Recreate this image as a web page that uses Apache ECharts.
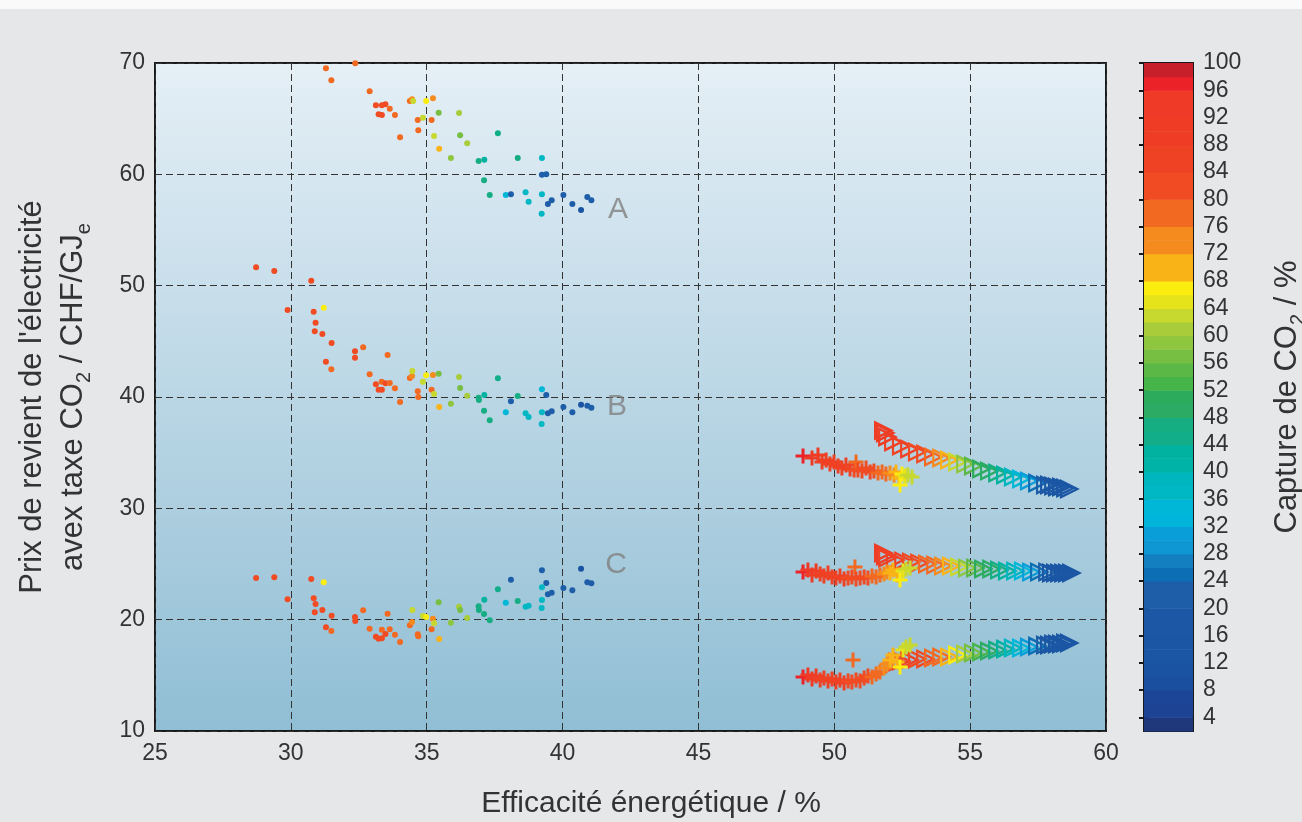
<!DOCTYPE html>
<html>
<head>
<meta charset="utf-8">
<title>Capture de CO2</title>
<script src="https://cdn.jsdelivr.net/npm/echarts@6/dist/echarts.min.js"></script>
<style>
  html, body { margin: 0; padding: 0; background: #e6e7e9; }
  #main { width: 1302px; height: 822px; }
</style>
</head>
<body>
<div id="main"></div>
<script>
// [efficacité %, prix CHF/GJe, capture CO2 %]
var dotsA = [
  [31.29,69.52,78],[32.37,69.97,78],[31.49,68.45,78],[32.90,67.46,78],[33.13,66.20,82],[33.35,66.20,82],
  [33.48,66.29,80],[33.64,65.90,76],[33.23,65.39,80],[33.35,65.33,80],[33.83,65.33,78],[34.38,66.59,78],
  [34.46,66.74,72],[34.50,66.59,63],[34.98,66.59,67],[35.23,66.83,74],[35.44,65.54,56],[36.19,65.51,60],
  [34.67,64.88,78],[34.86,65.09,63],[35.18,64.88,76],[34.02,63.33,76],[34.69,63.95,78],[35.27,63.44,63],
  [36.23,63.51,56],[36.49,62.79,60],[35.46,62.30,70],[37.62,63.69,44],[35.89,61.47,58],[36.91,61.20,46],
  [37.12,61.31,42],[38.35,61.47,46],[39.24,61.47,36],[39.24,59.97,22],[39.40,60.00,22],[37.11,59.46,46],
  [37.32,58.14,46],[37.91,58.14,34],[38.10,58.21,20],[38.64,58.39,36],[38.75,57.54,36],[39.24,58.21,36],
  [39.60,57.67,20],[39.46,57.34,20],[40.03,58.14,20],[40.36,57.34,20],[40.68,56.80,10],[40.91,57.96,20],
  [41.06,57.67,20],[39.23,56.46,36]
];
var dotsB = [
  [28.72,51.65,82],[29.39,51.32,82],[30.75,50.45,82],[29.88,47.81,80],[31.21,48.02,67],[30.84,47.66,82],
  [30.91,46.67,80],[30.88,45.90,80],[31.16,45.66,80],[31.50,44.85,80],[31.29,43.17,80],[31.49,42.49,78],
  [32.36,44.10,80],[32.66,44.46,76],[32.36,43.52,80],[33.56,43.77,76],[32.90,42.04,78],[33.13,41.14,82],
  [33.34,41.37,78],[33.48,41.23,80],[33.64,41.26,76],[33.23,40.65,80],[33.35,40.65,80],[33.83,40.78,78],
  [34.02,39.55,76],[34.38,41.71,78],[34.46,41.89,72],[34.47,42.33,63],[34.98,41.95,67],[35.23,41.98,74],
  [35.44,42.09,56],[34.86,41.37,63],[35.18,40.65,76],[34.67,40.51,78],[34.69,40.00,78],[35.27,40.27,63],
  [35.46,39.10,70],[36.19,41.80,60],[36.23,40.81,56],[36.49,40.12,60],[35.89,39.40,58],[36.91,39.94,46],
  [36.92,39.73,46],[37.12,40.18,42],[37.62,41.68,44],[37.11,38.77,46],[37.32,37.91,46],[38.10,39.61,20],
  [38.35,40.09,46],[37.91,38.63,34],[38.64,38.54,36],[38.75,38.20,36],[39.24,40.69,34],[39.40,40.18,22],
  [39.24,38.63,36],[39.23,37.57,36],[39.46,38.54,20],[39.60,38.72,20],[40.03,39.10,20],[40.36,38.63,20],
  [40.68,39.31,10],[40.91,39.22,20],[41.06,39.04,20]
];
var dotsC = [
  [28.72,23.74,82],[29.39,23.80,82],[30.75,23.65,82],[31.21,23.36,67],[29.88,21.83,80],[30.84,21.92,82],
  [30.91,21.41,80],[30.88,20.66,80],[31.16,20.87,80],[31.50,20.36,80],[31.29,19.31,80],[31.49,18.98,78],
  [32.36,20.24,80],[32.37,19.88,80],[32.66,20.84,76],[33.56,20.53,76],[32.90,19.19,78],[33.13,18.47,82],
  [33.23,18.29,80],[33.35,18.32,80],[33.35,19.10,78],[33.48,18.71,80],[33.64,19.13,76],[33.83,18.65,78],
  [34.02,17.99,76],[34.38,19.49,78],[34.46,19.79,72],[34.47,20.87,63],[34.67,18.68,78],[34.69,18.50,78],
  [34.86,20.33,63],[34.98,20.24,67],[35.23,20.09,74],[35.27,19.67,63],[35.18,19.13,76],[35.46,18.26,70],
  [35.44,21.56,56],[35.89,19.73,58],[36.19,21.16,60],[36.23,20.87,56],[36.49,20.15,60],[36.91,21.20,46],
  [36.92,20.87,46],[37.12,21.79,42],[37.11,20.51,46],[37.32,19.94,46],[37.62,22.73,44],[37.91,21.52,34],
  [38.10,23.59,20],[38.35,21.67,46],[38.64,21.16,36],[38.75,21.25,36],[39.24,24.43,22],[39.40,23.29,22],
  [39.24,22.91,36],[39.24,21.77,36],[39.23,21.05,36],[39.46,22.28,20],[39.60,22.42,20],[40.03,22.84,20],
  [40.36,22.64,20],[40.68,24.58,10],[40.91,23.36,20],[41.06,23.27,20]
];

var crossTop = [
  [48.85,34.70,96],[49.18,34.52,90],[49.40,34.79,88],[49.55,34.16,86],[49.70,34.34,86],[49.84,33.98,86],
  [49.99,34.16,84],[50.14,33.80,84],[50.28,33.62,84],[50.43,33.89,84],[50.58,33.53,84],[50.73,33.44,82],
  [50.80,34.16,76],[50.87,33.44,82],[51.02,33.35,82],[51.17,33.62,82],[51.32,33.26,80],[51.46,33.35,80],
  [51.61,33.17,78],[51.76,33.26,78],[51.90,33.08,76],[52.05,33.17,74],[52.20,32.99,72],[52.27,33.26,70],
  [52.38,32.72,68],[52.42,32.09,67],[52.49,33.08,66],[52.60,32.90,64],[52.71,32.99,62],[52.86,32.81,62]
];
var crossMid = [
  [48.85,24.28,96],[49.03,24.46,92],[49.18,24.01,90],[49.33,24.37,88],[49.48,24.10,86],[49.62,23.92,86],
  [49.77,24.19,86],[49.92,23.83,84],[50.06,23.74,84],[50.21,23.92,84],[50.36,23.65,84],[50.51,23.74,82],
  [50.65,23.83,82],[50.76,24.73,76],[50.80,23.65,82],[50.95,23.74,82],[51.10,23.83,80],[51.24,23.74,80],
  [51.39,23.92,78],[51.54,23.83,78],[51.68,24.01,76],[51.83,24.10,74],[51.94,24.28,72],[52.05,24.19,70],
  [52.16,24.46,68],[52.31,24.01,68],[52.42,23.56,66],[52.53,24.37,64],[52.64,24.55,62],[52.79,24.64,62]
];
var crossBot = [
  [48.85,14.85,96],[49.03,15.03,92],[49.18,14.67,90],[49.33,14.94,88],[49.48,14.58,86],[49.62,14.76,86],
  [49.77,14.49,86],[49.92,14.67,84],[50.06,14.40,84],[50.21,14.58,84],[50.36,14.31,84],[50.51,14.49,82],
  [50.65,14.40,82],[50.69,16.38,76],[50.80,14.58,82],[50.95,14.49,82],[51.10,14.76,80],[51.24,14.94,80],
  [51.39,14.85,78],[51.54,15.12,78],[51.68,15.30,76],[51.83,15.66,74],[51.94,16.02,72],[52.05,16.38,70],
  [52.16,16.83,68],[52.31,16.20,68],[52.42,15.75,66],[52.53,17.27,64],[52.64,17.54,62],[52.79,17.72,62]
];

var triTop = [
  [51.83,37.00,88],[51.90,36.77,88],[51.98,36.41,88],[52.20,35.96,86],[52.49,35.60,84],[52.79,35.33,84],
  [53.08,35.06,82],[53.38,34.88,80],[53.67,34.61,76],[53.97,34.52,74],[54.26,34.34,68],[54.56,34.16,62],
  [54.85,33.98,58],[55.14,33.80,54],[55.44,33.53,50],[55.73,33.35,48],[56.03,33.17,46],[56.32,32.99,42],
  [56.61,32.81,38],[56.91,32.63,34],[57.20,32.45,30],[57.50,32.27,24],[57.79,32.09,20],[57.94,32.09,18],
  [58.09,32.00,16],[58.23,31.91,14],[58.38,31.91,14],[58.53,31.82,12],[58.67,31.73,12]
];
var triMid = [
  [51.83,25.99,88],[51.90,25.72,88],[51.98,25.54,86],[52.27,25.36,86],[52.57,25.27,84],[52.86,25.18,82],
  [53.16,25.09,80],[53.45,25.00,78],[53.75,24.91,76],[54.04,24.82,72],[54.33,24.82,68],[54.63,24.73,62],
  [54.92,24.64,58],[55.22,24.64,54],[55.51,24.55,50],[55.81,24.55,48],[56.10,24.46,46],[56.39,24.37,42],
  [56.69,24.37,38],[56.98,24.37,34],[57.28,24.28,30],[57.57,24.28,24],[57.87,24.28,20],[58.01,24.19,18],
  [58.16,24.19,16],[58.31,24.19,14],[58.46,24.19,14],[58.60,24.19,12],[58.75,24.19,12]
];
var triBot = [
  [52.35,16.20,86],[52.49,16.29,86],[52.79,16.38,84],[53.08,16.47,82],[53.38,16.47,80],[53.67,16.56,78],
  [53.97,16.65,76],[54.26,16.65,70],[54.56,16.83,66],[54.85,16.92,60],[55.14,17.01,56],[55.44,17.10,52],
  [55.73,17.18,48],[56.03,17.27,46],[56.32,17.36,42],[56.61,17.45,38],[56.91,17.45,34],[57.20,17.54,30],
  [57.50,17.63,24],[57.79,17.72,20],[57.94,17.72,18],[58.09,17.81,16],[58.23,17.81,14],[58.38,17.81,14],
  [58.53,17.90,12],[58.67,17.90,12]
];

var groupNames = ['A', 'B', 'C'];
var groupLabelPos = [[42.04, 56.80], [42.00, 39.10], [41.97, 24.91]];

// colour bar: lower edge of each 2 % band, and the labelled ticks
var bandLows = [2,4,6,8,10,12,14,16,18,20,22,24,26,28,30,32,34,36,38,40,42,44,46,48,50,
                52,54,56,58,60,62,64,66,68,70,72,74,76,78,80,82,84,86,88,90,92,94,96,98];
var captureTicks = [4,8,12,16,20,24,28,32,36,40,44,48,52,56,60,64,68,72,76,80,84,88,92,96,100];

var colormap = [
  '#1f377b','#1c4394','#1d4597','#1a4fa0','#1a53a2','#1a56a4','#1a56a4','#1b57a4','#1b57a4','#1e5ea9',
  '#1e5ea9','#0c6fb5','#137fc1','#0e97d3','#0a9ed9','#00b4da','#00b7d8','#00b7c4','#00b6be','#00b3a7',
  '#02b2a0','#12ae8a','#17ad82','#2bab63','#2dab5c','#45b449','#5bb847','#76bf43','#8fc640','#a8cc3a',
  '#c7d82e','#e6e31b','#fbed0f','#fab317','#fab317','#f58a1f','#f58a1f','#f26922','#f26922','#f04b23',
  '#f04b23','#ef4124','#ef4124','#ee3c25','#ee3c25','#ee3a26','#ee3a26','#ec2229','#c8202a'
];

function colorFor(c) {
  var i = Math.floor((c - 2) / 2);
  if (i < 0) i = 0;
  if (i > colormap.length - 1) i = colormap.length - 1;
  return colormap[i];
}

var crossPath = 'path://M6,0H9V6H15V9H9V15H6V9H0V6H6Z';
var triPath = 'path://M0,0L14,7L0,14Z M1.5,2.7L1.5,11.3L10.4,7Z';

var FONT = '"Liberation Sans", Arial, sans-serif';
var TXT = '#333';

function dotSeries(data) {
  return {
    type: 'scatter', xAxisIndex: 0, yAxisIndex: 0, data: data,
    symbol: 'circle', symbolSize: 6,
    itemStyle: { opacity: 1, color: function (p) { return colorFor(p.value[2]); } }
  };
}
function markerSeries(data, symbol, size) {
  return {
    type: 'scatter', xAxisIndex: 0, yAxisIndex: 0, data: data,
    symbol: symbol, symbolSize: size,
    itemStyle: { opacity: 1, color: function (p) { return colorFor(p.value[2]); } }
  };
}

var chart = echarts.init(document.getElementById('main'));

var titleRich = {
  a: { fontSize: 31, lineHeight: 41, color: TXT, fontFamily: FONT },
  s: { fontSize: 20, lineHeight: 26, verticalAlign: 'bottom', color: TXT, fontFamily: FONT }
};

var option = {
  animation: false,
  backgroundColor: '#e6e7e9',
  textStyle: { fontFamily: FONT },
  graphic: [
    { type: 'rect', shape: { x: 0, y: 0, width: 1302, height: 9 }, style: { fill: '#fafafa' }, silent: true }
  ],
  title: {
    text: 'Efficacité énergétique / %',
    left: 'center', top: 789, padding: 0,
    textStyle: { fontFamily: FONT, fontSize: 30, fontWeight: 'normal', color: TXT }
  },
  grid: [
    {
      left: 155, top: 63, width: 951, height: 668, show: true,
      outerBoundsMode: 'none',
      backgroundColor: new echarts.graphic.LinearGradient(0, 0, 0, 1, [
        { offset: 0, color: '#e5eff6' },
        { offset: 1, color: '#90bed4' }
      ]),
      borderColor: '#1a1a1a', borderWidth: 2
    },
    {
      left: 1144, top: 63, width: 49, height: 668, show: true,
      outerBoundsMode: 'none',
      backgroundColor: 'transparent',
      borderColor: '#1a1a1a', borderWidth: 2
    }
  ],
  xAxis: [
    {
      gridIndex: 0, type: 'value', min: 25, max: 60, interval: 5,
      axisLine: { show: false }, axisTick: { show: false },
      splitLine: { show: true, lineStyle: { color: '#333', type: [7, 4], width: 1 } },
      axisLabel: { fontSize: 23, color: TXT, margin: 11, fontFamily: FONT }
    },
    { gridIndex: 1, type: 'value', min: 0, max: 1, show: false }
  ],
  yAxis: [
    {
      gridIndex: 0, type: 'value', min: 10, max: 70, interval: 10,
      axisLine: { show: false }, axisTick: { show: false },
      splitLine: { show: true, lineStyle: { color: '#333', type: [7, 4], width: 1 } },
      axisLabel: { fontSize: 23, color: TXT, margin: 10, fontFamily: FONT },
      name: "{a|Prix de revient de l'électricité}\n{a|avex taxe CO}{s|2}{a| / CHF/GJ}{s|e}",
      nameLocation: 'middle', nameRotate: 90, nameGap: 61,
      nameTextStyle: { color: TXT, fontFamily: FONT, rich: titleRich }
    },
    {
      gridIndex: 1, type: 'value', min: 2, max: 100, position: 'right',
      axisLine: { show: false }, splitLine: { show: false },
      axisTick: { show: true, inside: true, length: 5, customValues: captureTicks,
                  lineStyle: { color: '#1a1a1a', width: 2 } },
      axisLabel: { customValues: captureTicks, fontSize: 23, color: TXT, margin: 10, fontFamily: FONT },
      name: '{a|Capture de CO}{s|2}{a| / %}',
      nameLocation: 'middle', nameRotate: 90, nameGap: 74,
      nameTextStyle: { color: TXT, fontFamily: FONT, rich: titleRich }
    },
    {
      gridIndex: 1, type: 'value', min: 2, max: 100, position: 'left',
      axisLine: { show: false }, splitLine: { show: false }, axisLabel: { show: false },
      axisTick: { show: true, inside: true, length: 5, customValues: captureTicks,
                  lineStyle: { color: '#1a1a1a', width: 2 } }
    }
  ],
  series: [
    {
      type: 'custom', xAxisIndex: 1, yAxisIndex: 1,
      data: bandLows.map(function (lo) { return [lo, lo + 2]; }),
      encode: { y: [0, 1] },
      renderItem: function (params, api) {
        var p0 = api.coord([0, api.value(1)]);
        var p1 = api.coord([1, api.value(0)]);
        return {
          type: 'rect',
          shape: { x: p0[0], y: p0[1], width: p1[0] - p0[0], height: p1[1] - p0[1] + 0.5 },
          style: { fill: colorFor(api.value(0) + 1) }
        };
      },
      z: 1
    },
    dotSeries(dotsA),
    dotSeries(dotsB),
    dotSeries(dotsC),
    markerSeries(triTop, triPath, 20),
    markerSeries(triMid, triPath, 20),
    markerSeries(triBot, triPath, 20),
    markerSeries(crossTop, crossPath, 15),
    markerSeries(crossMid, crossPath, 15),
    markerSeries(crossBot, crossPath, 15),
    {
      type: 'scatter', xAxisIndex: 0, yAxisIndex: 0,
      data: groupLabelPos, symbolSize: 1,
      itemStyle: { color: 'rgba(0,0,0,0)' },
      label: {
        show: true, position: 'inside',
        formatter: function (p) { return groupNames[p.dataIndex]; },
        fontSize: 30, color: '#808080', fontFamily: FONT
      }
    }
  ]
};

chart.setOption(option);
</script>
</body>
</html>
